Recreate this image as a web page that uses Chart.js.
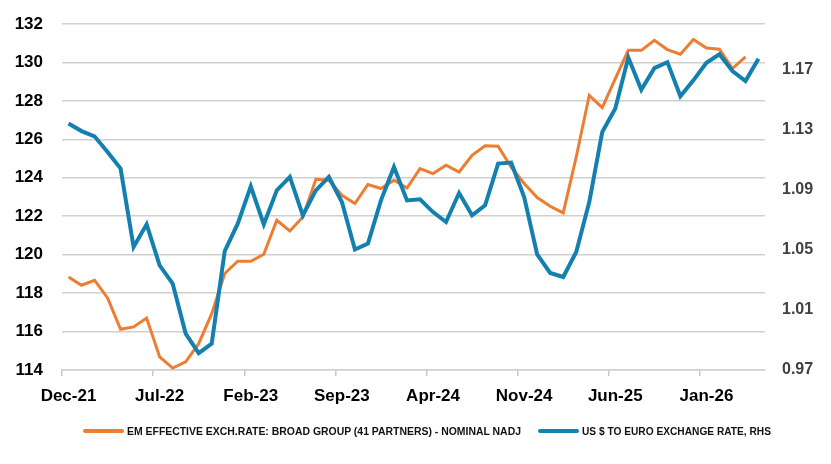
<!DOCTYPE html>
<html>
<head>
<meta charset="utf-8">
<script src="https://cdn.jsdelivr.net/npm/chart.js@4.4.1/dist/chart.umd.min.js"></script>
<style>
  html, body { margin: 0; padding: 0; background: #fff; }
  #wrap { position: relative; width: 831px; height: 464px; overflow: hidden; }
  #c { position: absolute; left: 0; top: 0; }
  .leg { position: absolute; top: 424px; height: 14px; display: flex; align-items: center; }
  .sw { width: 41px; height: 4px; border-radius: 2px; margin-right: 3px; flex: none; }
  .lt { display: inline-block; white-space: nowrap; font-family: "Liberation Sans", Arial, sans-serif;
        font-size: 11px; font-weight: bold; color: #111; transform-origin: 0 50%; line-height: 14px; }
</style>
</head>
<body>
<div id="wrap">
  <canvas id="c" width="831" height="464"></canvas>
  <div class="leg" style="left:83px"><span class="sw" style="background:#ED7D31"></span><span class="lt" id="lt1" data-w="394"></span></div>
  <div class="leg" style="left:538px"><span class="sw" style="background:#1380B0"></span><span class="lt" id="lt2" data-w="189"></span></div>
</div>
<script>
const months = [
  'Dec-21','Jan-22','Feb-22','Mar-22','Apr-22','May-22','Jun-22','Jul-22','Aug-22','Sep-22','Oct-22','Nov-22',
  'Dec-22','Jan-23','Feb-23','Mar-23','Apr-23','May-23','Jun-23','Jul-23','Aug-23','Sep-23','Oct-23','Nov-23',
  'Dec-23','Jan-24','Feb-24','Mar-24','Apr-24','May-24','Jun-24','Jul-24','Aug-24','Sep-24','Oct-24','Nov-24',
  'Dec-24','Jan-25','Feb-25','Mar-25','Apr-25','May-25','Jun-25','Jul-25','Aug-25','Sep-25','Oct-25','Nov-25',
  'Dec-25','Jan-26','Feb-26','Mar-26','Apr-26','May-26'
];
const tickLabels = ['Dec-21','Jul-22','Feb-23','Sep-23','Apr-24','Nov-24','Jun-25','Jan-26'];

const emEffective = [
  118.84, 118.41, 118.67, 117.75, 116.12, 116.24, 116.70, 114.68, 114.10, 114.42,
  115.37, 116.93, 119.02, 119.66, 119.66, 120.02, 121.79, 121.23, 121.96, 123.92,
  123.87, 123.09, 122.66, 123.65, 123.44, 123.87, 123.47, 124.48, 124.22, 124.65,
  124.30, 125.17, 125.67, 125.64, 124.56, 123.70, 122.97, 122.52, 122.17, 125.08,
  128.29, 127.65, 129.16, 130.63, 130.63, 131.15, 130.67, 130.43, 131.19, 130.75,
  130.69, 129.68, 130.29, null
];
const usdEuro = [
  1.1343, 1.1293, 1.1258, 1.1153, 1.1043, 1.0520, 1.0671, 1.0398, 1.0276, 0.9943,
  0.9813, 0.9876, 1.0493, 1.0676, 1.0925, 1.0671, 1.0898, 1.0987, 1.0731, 1.0898,
  1.0987, 1.0820, 1.0503, 1.0543, 1.0831, 1.1053, 1.0831, 1.0838, 1.0753, 1.0687,
  1.0880, 1.0731, 1.0798, 1.1076, 1.1083, 1.0853, 1.0471, 1.0347, 1.0320, 1.0487,
  1.0820, 1.1287, 1.1443, 1.1783, 1.1569, 1.1713, 1.1753, 1.1525, 1.1631, 1.1749,
  1.1805, 1.1693, 1.1627, 1.1776
];
const leftTicks = { min: 114, max: 132, step: 2 };
const rightTickValues = [0.97, 1.01, 1.05, 1.09, 1.13, 1.17];
const rightRange = { min: 0.97, max: 1.2007 };
const seriesNames = [
  'EM EFFECTIVE EXCH.RATE: BROAD GROUP (41 PARTNERS) - NOMINAL NADJ',
  'US $ TO EURO EXCHANGE RATE, RHS'
];

const FONT = '"Liberation Sans", Arial, sans-serif';
const GRID = '#d0d0d0';

new Chart(document.getElementById('c'), {
  type: 'line',
  data: {
    labels: months,
    datasets: [
      {
        label: seriesNames[0], data: emEffective, yAxisID: 'y',
        borderColor: '#ED7D31', borderWidth: 3, pointRadius: 0, tension: 0,
        fill: false, order: 1, spanGaps: false
      },
      {
        label: seriesNames[1], data: usdEuro, yAxisID: 'y1',
        borderColor: '#1380B0', borderWidth: 4, pointRadius: 0, tension: 0,
        fill: false, order: 0
      }
    ]
  },
  options: {
    responsive: false,
    animation: false,
    devicePixelRatio: 1,
    layout: { padding: { top: 24, left: 0, right: 0, bottom: 0 } },
    plugins: { legend: { display: false }, tooltip: { enabled: false } },
    scales: {
      x: {
        type: 'category',
        offset: true,
        grid: {
          offset: true, drawOnChartArea: false, drawTicks: true, tickLength: 6, lineWidth: 1.5,
          color: (ctx) => (ctx.index !== undefined && ctx.index % 7 === 0) ? '#c8c8c8' : 'rgba(0,0,0,0)'
        },
        border: { display: true, color: GRID, width: 1.5 },
        ticks: {
          autoSkip: false, maxRotation: 0, minRotation: 0, padding: 10,
          color: '#000', font: { family: FONT, size: 17, weight: 'bold' },
          callback: function (v, i) {
            const l = this.getLabelForValue(v);
            return tickLabels.includes(l) ? l : '';
          }
        },
        afterFit: (s) => { s.height = 94; s.paddingLeft = 0; s.paddingRight = 0; }
      },
      y: {
        position: 'left',
        min: leftTicks.min, max: leftTicks.max,
        grid: { color: GRID, lineWidth: 1.5, drawTicks: false },
        border: { display: false },
        ticks: {
          stepSize: leftTicks.step, padding: 19, color: '#000',
          font: { family: FONT, size: 17, weight: 'bold' }
        },
        afterFit: (s) => { s.width = 62; s.paddingTop = 0; s.paddingBottom = 0; }
      },
      y1: {
        position: 'right',
        min: rightRange.min, max: rightRange.max,
        grid: { display: false, drawTicks: false },
        border: { display: false },
        afterBuildTicks: (s) => { s.ticks = rightTickValues.map(v => ({ value: v })); },
        ticks: {
          padding: 17, color: '#404040',
          font: { family: FONT, size: 16, weight: 'bold' },
          callback: (v) => Number(v).toFixed(2)
        },
        afterFit: (s) => { s.width = 66; s.paddingTop = 0; s.paddingBottom = 0; }
      }
    }
  }
});

// legend texts (condensed to the reference widths)
[['lt1', seriesNames[0]], ['lt2', seriesNames[1]]].forEach(([id, txt]) => {
  const el = document.getElementById(id);
  el.textContent = txt;
  const w = el.getBoundingClientRect().width;
  const target = parseFloat(el.dataset.w);
  el.style.transform = 'scaleX(' + (target / w) + ')';
});
</script>
</body>
</html>
